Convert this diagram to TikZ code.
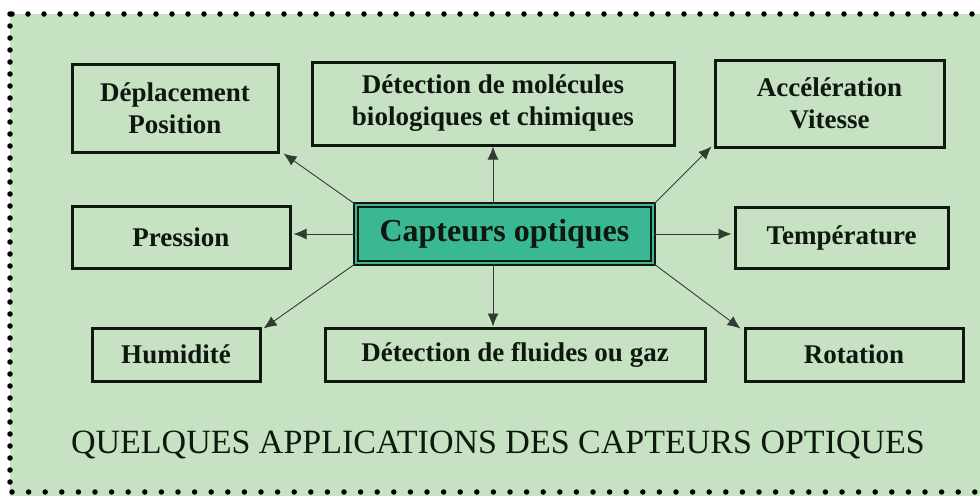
\documentclass[tikz,border=0pt]{standalone}
\usepackage{fontspec}
\setmainfont{Liberation Serif}
\usetikzlibrary{arrows.meta}
\definecolor{bggreen}{RGB}{198,226,194}
\definecolor{tealbox}{RGB}{58,184,148}
\definecolor{ink}{RGB}{14,24,14}
\begin{document}
\begin{tikzpicture}[x=1pt,y=-1pt,
  appbox/.style={draw=ink, line width=3pt, fill=bggreen, align=center, text=ink,
    font=\fontsize{27}{32}\selectfont\bfseries, inner sep=0pt},
  centerbox/.style={draw=ink, line width=1.8pt, double=tealbox, double distance=2.2pt,
    fill=tealbox, align=center, text=ink, font=\fontsize{32}{38}\selectfont\bfseries, inner sep=0pt},
  conn/.style={draw=ink!85, line width=0.9pt, -{Latex[length=13pt,width=11pt]}},
  dotline/.style={draw=black, line width=5.5pt, line cap=round, dash pattern=on 0pt off 16pt}]
\useasboundingbox (0,0) rectangle (980,496);
\fill[white] (0,0) rectangle (980,496);
\fill[bggreen] (10,14) rectangle (980,496);
% dotted frame
\draw[dotline] (12,14) -- (980,14);
\draw[dotline, dash pattern=on 0pt off 12pt] (10,14) -- (10,492);
\draw[dotline, dash pattern=on 0pt off 16.6pt] (12,492) -- (980,492);
% boxes
\node[appbox, minimum width=206pt, minimum height=88pt] (dep) at (175,108) {Déplacement\\Position};
\node[appbox, minimum width=362pt, minimum height=83pt] (mol) at (493,103.5) {Détection de molécules\\biologiques et chimiques};
\node[appbox, minimum width=229pt, minimum height=87pt] (acc) at (829.5,103.5) {Accélération\\Vitesse};
\node[appbox, minimum width=218pt, minimum height=62pt] (pre) at (181,237) {Pression};
\node[centerbox, minimum width=297pt, minimum height=58pt] (cap) at (504.5,234) {Capteurs optiques};
\node[appbox, minimum width=213pt, minimum height=61pt] (tem) at (841.5,237.5) {Température};
\node[appbox, minimum width=168pt, minimum height=53pt] (hum) at (176,354.5) {Humidité};
\node[appbox, minimum width=380pt, minimum height=53pt] (flu) at (515,354.5) {Détection de fluides ou gaz};
\node[appbox, minimum width=218pt, minimum height=53pt] (rot) at (854,354.5) {Rotation};
% title
\node[text=ink, font=\fontsize{34}{40}\selectfont, anchor=base, inner sep=0pt] (title) at (498,453) {QUELQUES APPLICATIONS DES CAPTEURS OPTIQUES};
% connectors
\draw[conn] (cap.north west) -- ([xshift=4pt]dep.south east);
\draw[conn] (mol.south |- cap.north) -- (mol.south);
\draw[conn] (cap.north east) -- ([xshift=-2pt,yshift=2pt]acc.south west);
\draw[conn] (cap.west) -- ([xshift=2pt]cap.west -| pre.east);
\draw[conn] (cap.east) -- ([xshift=-2pt]cap.east -| tem.west);
\draw[conn] (cap.south west) -- ([xshift=2pt,yshift=-2pt]hum.north east);
\draw[conn] (mol.south |- cap.south) -- (mol.south |- flu.north);
\draw[conn] (cap.south east) -- ([xshift=-3pt,yshift=-2pt]rot.north west);
\end{tikzpicture}
\end{document}
